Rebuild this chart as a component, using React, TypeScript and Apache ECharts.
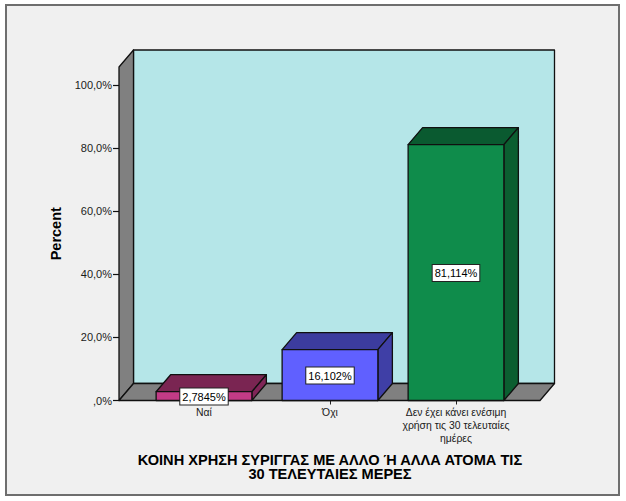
import React, { useEffect, useRef } from "react";
import * as echarts from "echarts";

const categories = ["Ναί", "Όχι", "Δεν έχει κάνει ενέσιμη\nχρήση τις 30 τελευταίες\nημέρες"];
const values = [2.7845, 16.102, 81.114];
const valueLabels = ["2,7845%", "16,102%", "81,114%"];
const yTickLabels = [",0%", "20,0%", "40,0%", "60,0%", "80,0%", "100,0%"];
const frontColors = ["#C23B86", "#6060FF", "#0F8C4B"];
const topColors = ["#7A2552", "#3C3C9E", "#0A5A30"];
const sideColors = ["#7F2557", "#3F3FA6", "#0B5E30"];
const xTitle = "ΚΟΙΝΗ ΧΡΗΣΗ ΣΥΡΙΓΓΑΣ ΜΕ ΑΛΛΟ Ή ΑΛΛΑ ΑΤΟΜΑ ΤΙΣ\n30 ΤΕΛΕΥΤΑΙΕΣ ΜΕΡΕΣ";
const yTitle = "Percent";

const FONT = '"Liberation Sans", Arial, sans-serif';
const DX = 14.5;
const DY = 17;
const WALL_TOP_VALUE = 105.7;
const EDGE = "#101010";

export default function App() {
  const ref = useRef<HTMLDivElement>(null);
  useEffect(() => {
    const chart = echarts.init(ref.current!, null, { renderer: "svg" });
    const poly = (points: number[][], fill: string, z2 = 0) => ({
      type: "polygon",
      z2,
      shape: { points },
      style: { fill, stroke: EDGE, lineWidth: 1.3, lineJoin: "round" },
    });
    chart.setOption({
      animation: false,
      backgroundColor: "#ffffff",
      graphic: [
        {
          type: "rect",
          z: -10,
          shape: { x: 6, y: 5, width: 613, height: 490 },
          style: { fill: "#F0F0F0", stroke: "#6E6E6E", lineWidth: 2 },
        },
      ],
      grid: { left: 141, top: 85, width: 378, height: 315.5 },
      xAxis: {
        type: "category",
        data: categories,
        axisLine: { show: false },
        axisTick: { show: true, alignWithLabel: true, length: 4, lineStyle: { color: "#222", width: 1 } },
        axisLabel: {
          interval: 0,
          margin: 5,
          fontFamily: FONT,
          fontSize: 10.4,
          lineHeight: 13,
          color: "#1a1a1a",
          verticalAlign: "top",
        },
        name: xTitle,
        nameLocation: "middle",
        nameGap: 52,
        nameTextStyle: {
          fontFamily: FONT,
          fontWeight: "bold",
          fontSize: 14.6,
          lineHeight: 14.5,
          color: "#000",
          verticalAlign: "top",
        },
      },
      yAxis: {
        type: "value",
        min: 0,
        max: 100,
        interval: 20,
        offset: 22,
        splitLine: { show: false },
        axisLine: { show: false },
        axisTick: { show: true, length: 6, lineStyle: { color: "#111", width: 1.2 } },
        axisLabel: {
          margin: 7,
          fontFamily: FONT,
          fontSize: 11,
          color: "#1a1a1a",
          formatter: (_v: number, i: number) => yTickLabels[i],
        },
        name: yTitle,
        nameLocation: "middle",
        nameGap: 50,
        nameRotate: 90,
        nameTextStyle: { fontFamily: FONT, fontWeight: "bold", fontSize: 14.5, color: "#000", padding: [0, 0, 0, 18] },
      },
      series: [
        {
          type: "custom",
          silent: true,
          z: 1,
          data: [0],
          renderItem: (params: any, api: any) => {
            const cs = params.coordSys;
            const bottom = api.coord([0, 0])[1];
            const top = api.coord([0, WALL_TOP_VALUE])[1];
            const l = cs.x - 22;
            const r = cs.x + cs.width + 21;
            return {
              type: "group",
              children: [
                poly([[l + DX, top - DY], [r + DX, top - DY], [r + DX, bottom - DY], [l + DX, bottom - DY]], "#B5E6E8", 0),
                poly([[l, top], [l + DX, top - DY], [l + DX, bottom - DY], [l, bottom]], "#808080", 1),
                poly([[l, bottom], [l + DX, bottom - DY], [r + DX, bottom - DY], [r, bottom]], "#808080", 1),
              ],
            };
          },
        },
        {
          type: "custom",
          z: 3,
          data: values.map((v, i) => [i, v]),
          encode: { x: 0, y: 1 },
          renderItem: (params: any, api: any) => {
            const i = api.value(0);
            const [cx, y] = api.coord([i, api.value(1)]);
            const bottom = api.coord([i, 0])[1];
            const w = api.size([1, 0])[0] * 0.76;
            const l = cx - w / 2;
            const r = cx + w / 2;
            return {
              type: "group",
              children: [
                poly([[l, y], [l + DX, y - DY], [r + DX, y - DY], [r, y]], topColors[i], 1),
                poly([[r, y], [r + DX, y - DY], [r + DX, bottom - DY], [r, bottom]], sideColors[i], 1),
                poly([[l, y], [r, y], [r, bottom], [l, bottom]], frontColors[i], 2),
                {
                  type: "text",
                  z2: 5,
                  style: {
                    x: cx,
                    y: (y + bottom) / 2 + 0.5,
                    text: valueLabels[i],
                    align: "center",
                    verticalAlign: "middle",
                    fontFamily: FONT,
                    fontSize: 11,
                    fill: "#000",
                    backgroundColor: "#fff",
                    borderColor: "#222",
                    borderWidth: 1,
                    padding: [3, 2, 2, 2],
                  },
                },
              ],
            };
          },
        },
      ],
    });
    return () => chart.dispose();
  }, []);
  return <div ref={ref} style={{ position: "absolute", left: 0, top: 0, width: 626, height: 501 }} />;
}
